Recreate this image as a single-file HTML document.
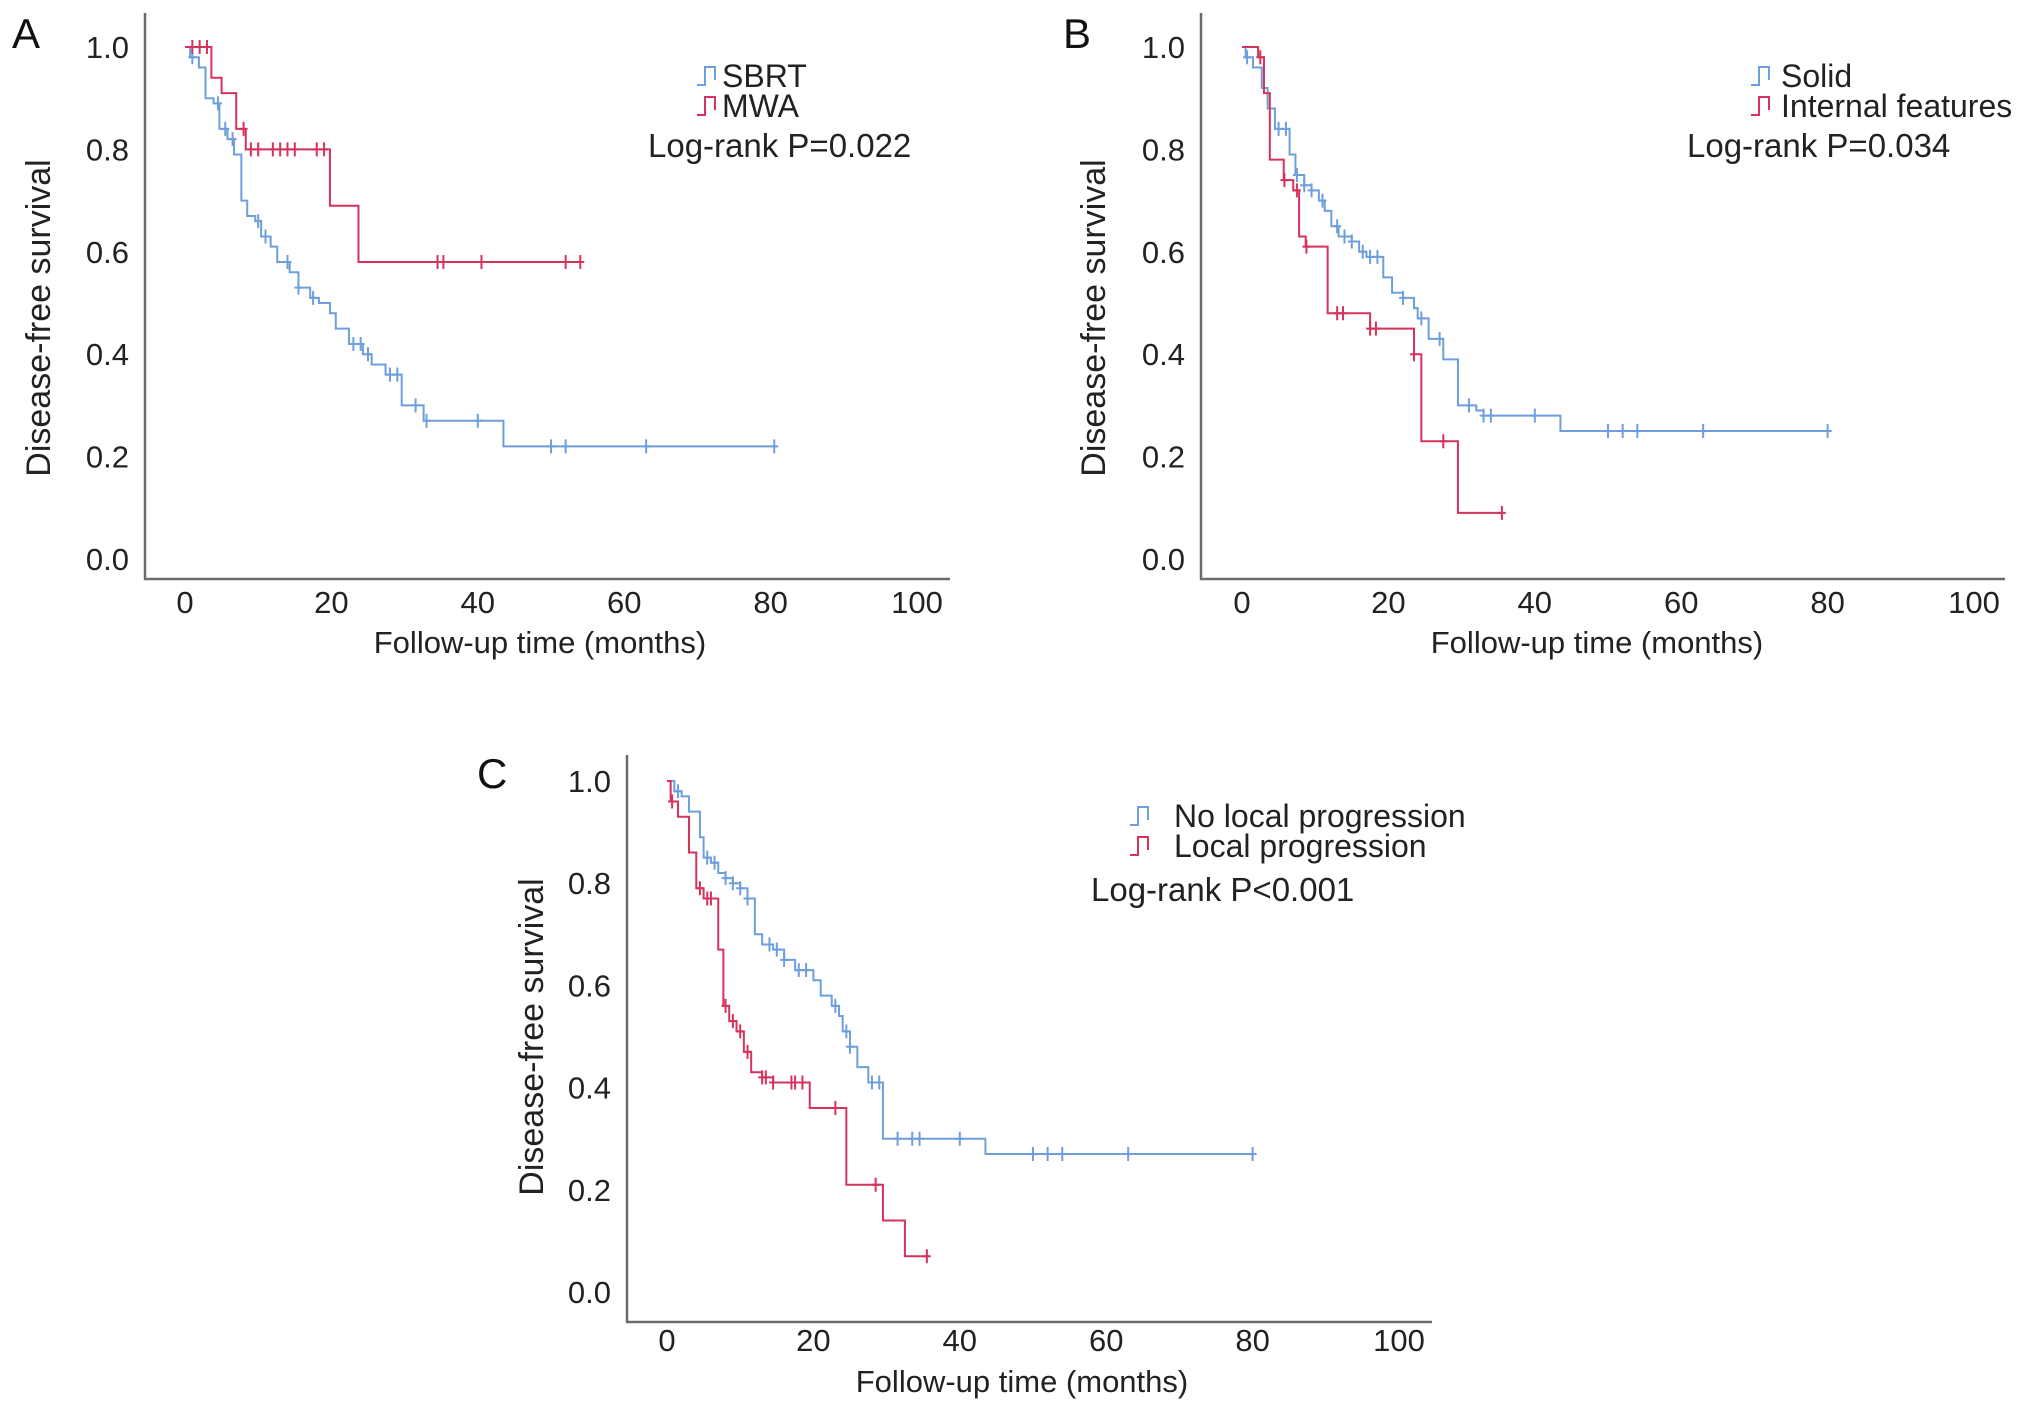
<!DOCTYPE html>
<html><head><meta charset="utf-8">
<style>
html,body{margin:0;padding:0;background:#fff;}
svg{display:block;font-family:"Liberation Sans",Arial,sans-serif;}
</style></head>
<body>
<svg id="fig" width="2032" height="1412" viewBox="0 0 2032 1412" xmlns="http://www.w3.org/2000/svg"></svg>
<script>
// Panel A data
const aBlueT=[0.7,1.9,2.8,3.9,4.7,5.8,6.7,7.7,8.5,9.6,10.4,11.7,12.6,14.3,15.5,17.1,18.3,19.8,20.6,22.4,24.3,25.5,27.4,29.6,32.6,43.5];
const aBlueS=[0.98,0.96,0.90,0.89,0.84,0.82,0.79,0.70,0.67,0.66,0.63,0.61,0.58,0.56,0.53,0.51,0.50,0.48,0.45,0.42,0.40,0.38,0.36,0.30,0.27,0.22];
const aBlueC=[1.0,4.5,5.5,6.5,10,11,14,15.5,17.5,23,24,25,28,29,31.5,33,40,50,52,63,80.5];
const aRedT=[3.6,5.0,7.0,8.3,19.8,23.7];
const aRedS=[0.94,0.91,0.84,0.80,0.69,0.58];
const aRedC=[1,2,3,8,9,10,12,13,14,15,18,19,34.5,35.3,40.5,52,54];
// Panel B data
const bBlueT=[0.5,1.5,2.7,3.5,4.5,6.5,7.3,8.5,9.5,10.5,11.3,12.2,13.2,15,16,17,19.3,20.5,22,23.5,24,25.5,27.5,29.5,32,33,43.5];
const bBlueS=[0.98,0.96,0.92,0.88,0.84,0.79,0.75,0.73,0.72,0.70,0.68,0.65,0.63,0.62,0.60,0.59,0.55,0.52,0.51,0.49,0.47,0.43,0.39,0.30,0.29,0.28,0.25];
const bBlueC=[0.7,5,6,7.5,8.5,9.5,11,13,14,15,16.5,17.5,18.5,22,24.5,27,31,33,34,40,50,52,54,63,80];
const bRedT=[2.2,3.0,3.8,5.7,7.0,7.8,8.7,11.7,17.5,23.5,24.5,29.5];
const bRedS=[0.98,0.91,0.78,0.74,0.72,0.63,0.61,0.48,0.45,0.40,0.23,0.09];
const bRedC=[2.5,5.8,7.5,8.8,13,13.8,17.5,18.3,23.5,27.5,35.5];
// Panel C data
const cBlueT=[1,2,3,4.5,5,6,7,8,9,10,11,12,13,14.5,16,17.5,20,21,22.5,23.5,24,25,26,27.5,29.5,43.5];
const cBlueS=[0.98,0.97,0.94,0.89,0.85,0.84,0.82,0.81,0.80,0.79,0.77,0.70,0.68,0.67,0.65,0.63,0.61,0.58,0.56,0.54,0.51,0.48,0.44,0.41,0.30,0.27];
const cBlueC=[1.5,5.5,6.5,8,9,10,11,14,15,16,18,19,23,24.5,25,28,29,31.5,33.5,34.5,40,50,52,54,63,80];
const cRedT=[0.5,1.5,3,4,5,7,7.7,8.5,9.5,10.5,11.5,13,14.5,19.5,24.5,29.5,32.5];
const cRedS=[0.96,0.93,0.86,0.79,0.77,0.67,0.56,0.53,0.51,0.47,0.43,0.42,0.41,0.36,0.21,0.14,0.07];
const cRedC=[0.7,4.5,5.5,6,8,9,10,11,13,13.5,14.5,17,17.5,18.5,23,28.5,35.5];
// ticks
const xTicks=[0,20,40,60,80,100];
const yTicks=[0.0,0.2,0.4,0.6,0.8,1.0];
const yTickLabels=["0.0","0.2","0.4","0.6","0.8","1.0"];

const NS="http://www.w3.org/2000/svg";
const svg=document.getElementById('fig');
const BLUE="#6e9fdc", RED="#d5325c", AX="#6b6b6b";
function mk(tag,attrs,parent){const e=document.createElementNS(NS,tag);for(const k in attrs)e.setAttribute(k,attrs[k]);(parent||svg).appendChild(e);return e;}
function txt(s,attrs,parent){const e=mk('text',attrs,parent);e.textContent=s;return e;}

function panel(p){
  const g=mk('g',{});
  
  
  const X=t=>p.x0+t*p.px;
  const Y=s=>p.y0-s*(p.y0-p.y1);
  const ax=mk('path',{d:`M${p.ax} ${p.top} V${p.xb} H${p.right}`,stroke:AX,'stroke-width':2.5,fill:'none'},g);
  
  
  xTicks.forEach(v=>{const t=txt(String(v),{x:X(v),y:p.xb+p.xtOff,'font-size':31,'text-anchor':'middle',fill:'#222'},g);
    
    });
  yTicks.forEach((v,i)=>{const t=txt(yTickLabels[i],{x:p.ax-16,y:Y(v)+11,'font-size':31,'text-anchor':'end',fill:'#222'},g);
    
    });
  const xt=txt('Follow-up time (months)',{x:p.xtx,y:p.xty,'font-size':31,'text-anchor':'middle',fill:'#222'},g);
  
  
  const yt=txt('Disease-free survival',{x:0,y:0,'font-size':34,'text-anchor':'middle',fill:'#222',transform:`translate(${p.ytx},${p.yty}) rotate(-90)`},g);
  
  
  const lt=txt(p.id,{x:p.lx,y:p.ly,'font-size':42,fill:'#111'},g);
  
  
  p.series.forEach((s,si)=>{
    let d=`M${X(0)} ${Y(1)}`;
    s.T.forEach((t,i)=>{d+=` H${X(t)} V${Y(s.S[i])}`;});
    const last=Math.max(s.C[s.C.length-1],s.T[s.T.length-1]);
    d+=` H${X(last)}`;
    const ln=mk('path',{d,stroke:s.col,'stroke-width':2,fill:'none'},g);
    
    
    s.C.forEach(c=>{
      let v=1;s.T.forEach((t,i)=>{if(t<=c)v=s.S[i];});
      const m=mk('path',{d:`M${X(c)} ${Y(v)-7} V${Y(v)+7} M${X(c)-4} ${Y(v)} H${X(c)+4}`,stroke:s.col,'stroke-width':2,fill:'none'},g);
      
      
    });
    const ly=p.legY[si];
    const ic=mk('path',{d:`M${p.legX} ${ly+9} H${p.legX+8} V${ly-9} H${p.legX+18} V${ly+4}`,stroke:s.col,'stroke-width':2,fill:'none'},g);
    
    
    const tx=txt(s.label,{x:p.legTx,y:ly+11,'font-size':32,fill:'#222'},g);
    
    
  });
  const pr=txt(p.pval,{x:p.pvx,y:p.pvy,'font-size':33,fill:'#222'},g);
  
  
}

panel({id:'A',ax:145,top:13,xb:579,right:950,x0:185,px:7.32,y0:559,y1:47,xtOff:34,
  xtx:540,xty:653,ytx:50,yty:318,lx:12,ly:48,
  legX:697,legTx:722,legY:[76,106],pvx:648,pvy:157,pval:'Log-rank P=0.022',
  series:[{name:'sbrt',label:'SBRT',col:BLUE,T:aBlueT,S:aBlueS,C:aBlueC},
          {name:'mwa',label:'MWA',col:RED,T:aRedT,S:aRedS,C:aRedC}]});
panel({id:'B',ax:1201,top:13,xb:579,right:2005,x0:1242,px:7.32,y0:559,y1:47,xtOff:34,
  xtx:1597,xty:653,ytx:1105,yty:318,lx:1063,ly:48,
  legX:1751,legTx:1781,legY:[76,106],pvx:1687,pvy:157,pval:'Log-rank P=0.034',
  series:[{name:'solid',label:'Solid',col:BLUE,T:bBlueT,S:bBlueS,C:bBlueC},
          {name:'internal',label:'Internal features',col:RED,T:bRedT,S:bRedS,C:bRedC}]});
panel({id:'C',ax:627,top:755,xb:1322,right:1432,x0:667,px:7.32,y0:1292,y1:781,xtOff:29,
  xtx:1022,xty:1392,ytx:543,yty:1037,lx:477,ly:788,
  legX:1130,legTx:1174,legY:[816,846],pvx:1091,pvy:901,pval:'Log-rank P<0.001',
  series:[{name:'no-local',label:'No local progression',col:BLUE,T:cBlueT,S:cBlueS,C:cBlueC},
          {name:'local',label:'Local progression',col:RED,T:cRedT,S:cRedS,C:cRedC}]});
</script>
</body></html>
